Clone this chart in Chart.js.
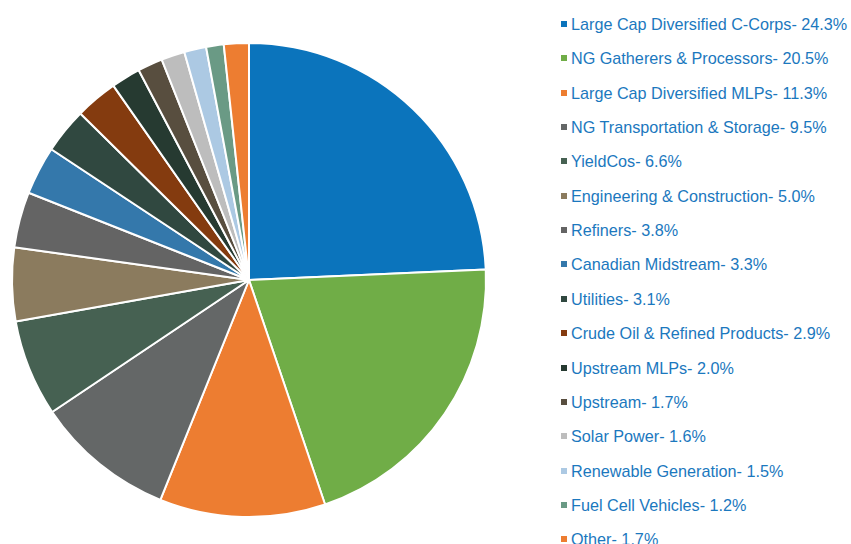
<!DOCTYPE html>
<html><head><meta charset="utf-8">
<script src="https://cdn.jsdelivr.net/npm/chart.js@4/dist/chart.umd.min.js"></script>
<style>
html,body{margin:0;padding:0;background:#fff;width:851px;height:544px;overflow:hidden;}
#pieWrap{position:absolute;left:9px;top:40px;width:480px;height:480px;}
#legend{position:absolute;left:560px;top:0;margin:0;padding:0;list-style:none;font-family:"Liberation Sans",Arial,sans-serif;font-size:16.2px;color:#1b78be;}
#legend li{position:absolute;left:0;white-space:nowrap;height:20px;line-height:20px;}
#legend span.box{position:absolute;left:1px;top:7px;width:6px;height:6px;}
#legend span.t{position:absolute;left:11px;top:0;}
</style></head><body>
<div id="pieWrap"><canvas id="c" width="480" height="480"></canvas></div>
<ul id="legend"></ul>
<script>
const categories = ["Large Cap Diversified C-Corps","NG Gatherers & Processors","Large Cap Diversified MLPs","NG Transportation & Storage","YieldCos","Engineering & Construction","Refiners","Canadian Midstream","Utilities","Crude Oil & Refined Products","Upstream MLPs","Upstream","Solar Power","Renewable Generation","Fuel Cell Vehicles","Other"];
const values = [24.3,20.5,11.3,9.5,6.6,5.0,3.8,3.3,3.1,2.9,2.0,1.7,1.6,1.5,1.2,1.7];
const colors = ["#0b74bc","#70ad47","#ed7d31","#646767","#466152","#8b7b5e","#646464","#3478ab","#304840","#843b0f","#263a31","#584e3f","#bdbdbd","#acc9e3","#6a9a85","#ed7d31"];

const chart = new Chart(document.getElementById('c'), {
  type: 'pie',
  data: { labels: categories, datasets: [{ data: values, backgroundColor: colors, borderColor: '#ffffff', borderWidth: 2 }] },
  options: {
    responsive: false, animation: false, maintainAspectRatio: false,
    layout: { padding: 2 },
    plugins: { legend: { display: false }, tooltip: { enabled: false } }
  }
});

const ul = document.getElementById('legend');
chart.data.labels.forEach((lab, i) => {
  const li = document.createElement('li');
  li.style.top = (14 + i * 34.35) + 'px';
  const b = document.createElement('span'); b.className = 'box'; b.style.background = colors[i];
  const t = document.createElement('span'); t.className = 't';
  t.textContent = lab + '- ' + values[i].toFixed(1) + '%';
  li.appendChild(b); li.appendChild(t); ul.appendChild(li);
});
</script>
</body></html>
